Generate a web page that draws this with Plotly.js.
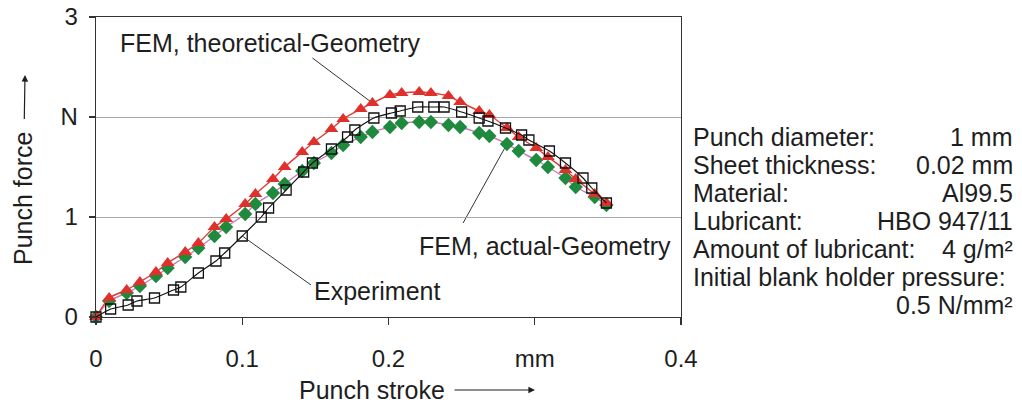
<!DOCTYPE html>
<html>
<head>
<meta charset="utf-8">
<script src="https://cdn.plot.ly/plotly-3.0.1.min.js"></script>
<style>
  html, body { margin: 0; padding: 0; background: #ffffff; }
  #chart { width: 1022px; height: 403px; }
</style>
</head>
<body>
<div id="chart"></div>
<script>
// Punch force over punch stroke: FEM (theoretical / actual geometry) vs. experiment
const strokeFem = [0, 0.009, 0.021, 0.030, 0.041, 0.049, 0.061, 0.070, 0.081, 0.089,
  0.102, 0.109, 0.121, 0.129, 0.141, 0.149, 0.161, 0.169, 0.181, 0.189,
  0.201, 0.209, 0.221, 0.229, 0.241, 0.249, 0.262, 0.269, 0.281, 0.289,
  0.301, 0.309, 0.321, 0.328, 0.341, 0.349];
const forceTheoretical = [0, 0.19, 0.27, 0.35, 0.45, 0.54, 0.65, 0.74, 0.90, 0.98,
  1.13, 1.23, 1.38, 1.50, 1.65, 1.75, 1.88, 1.98, 2.08, 2.14,
  2.22, 2.24, 2.25, 2.24, 2.21, 2.15, 2.06, 2.02, 1.89, 1.80,
  1.69, 1.60, 1.47, 1.38, 1.23, 1.14];
const forceActual = [0, 0.16, 0.24, 0.31, 0.41, 0.49, 0.60, 0.69, 0.81, 0.90,
  1.03, 1.13, 1.24, 1.33, 1.46, 1.54, 1.64, 1.72, 1.80, 1.85,
  1.90, 1.94, 1.95, 1.95, 1.92, 1.90, 1.84, 1.81, 1.73, 1.66,
  1.57, 1.50, 1.39, 1.30, 1.20, 1.12];
const strokeExp = [0, 0.010, 0.022, 0.028, 0.040, 0.053, 0.058, 0.070, 0.082, 0.088,
  0.100, 0.113, 0.118, 0.130, 0.142, 0.148, 0.161, 0.172, 0.177, 0.190,
  0.202, 0.208, 0.220, 0.231, 0.238, 0.250, 0.262, 0.268, 0.280, 0.291,
  0.296, 0.310, 0.321, 0.333, 0.339, 0.349];
const forceExp = [0, 0.08, 0.12, 0.16, 0.19, 0.27, 0.30, 0.44, 0.56, 0.64,
  0.81, 1.00, 1.09, 1.27, 1.45, 1.54, 1.68, 1.80, 1.87, 1.99,
  2.04, 2.06, 2.10, 2.10, 2.10, 2.05, 1.99, 1.96, 1.89, 1.82,
  1.77, 1.66, 1.54, 1.39, 1.29, 1.14];

const xTickVals = [0, 0.1, 0.2, 0.3, 0.4];
const xTickText = ['0', '0.1', '0.2', 'mm', '0.4'];
const yTickVals = [0, 1, 2, 3];
const yTickText = ['0', '1', 'N', '3'];

const seriesNames = ['FEM, theoretical-Geometry', 'FEM, actual-Geometry', 'Experiment'];
const xTitle = 'Punch stroke';
const yTitle = 'Punch force';

const paramLabels = ['Punch diameter:', 'Sheet thickness:', 'Material:', 'Lubricant:',
  'Amount of lubricant:', 'Initial blank holder pressure:', ''];
const paramValues = ['1 mm', '0.02 mm', 'Al99.5', 'HBO 947/11',
  '4 g/m²', '', '0.5 N/mm²'];

const FONT = 'Liberation Sans, Arial, Helvetica, sans-serif';
const TXT = '#1e1e1e';
const FS = 25;      // labels, titles, parameter block
const FS_TICK = 24; // tick labels

const traces = [
  {
    x: strokeFem, y: forceActual, name: seriesNames[1], type: 'scatter', mode: 'lines+markers',
    line: { color: '#c77cb8', width: 1.4, shape: 'spline', smoothing: 0.6 },
    marker: { symbol: 'diamond', size: 11, color: '#1f8a3d' },
    cliponaxis: false
  },
  {
    x: strokeFem, y: forceTheoretical, name: seriesNames[0], type: 'scatter', mode: 'lines+markers',
    line: { color: '#e23a35', width: 1.4, shape: 'spline', smoothing: 0.6 },
    marker: { symbol: 'triangle-up', size: 12, color: '#e0302b' },
    cliponaxis: false
  },
  {
    x: strokeExp, y: forceExp, name: seriesNames[2], type: 'scatter', mode: 'lines+markers',
    line: { color: '#111111', width: 1.1, shape: 'spline', smoothing: 0.6 },
    marker: { symbol: 'square-open', size: 10, color: '#111111', line: { width: 1.3, color: '#111111' } },
    cliponaxis: false
  }
];

// paper-coordinate helpers for text outside the plot area
const L = 96, R = 681, T = 17, B = 317;
const px = v => (v - L) / (R - L);
const py = v => (B - v) / (B - T);

const annotations = [];
const textFont = { family: FONT, size: FS, color: TXT };

// series labels
annotations.push({ x: 0.0147, y: 2.74, xref: 'x', yref: 'y', text: seriesNames[0], showarrow: false,
  xanchor: 'left', yanchor: 'middle', font: textFont });
annotations.push({ x: 0.2198, y: 0.71, xref: 'x', yref: 'y', text: seriesNames[1], showarrow: false,
  xanchor: 'left', yanchor: 'middle', font: textFont });
annotations.push({ x: 0.148, y: 0.26, xref: 'x', yref: 'y', text: seriesNames[2], showarrow: false,
  xanchor: 'left', yanchor: 'middle', font: textFont });

// axis titles, each followed by an arrow pointing in the growing direction
annotations.push({ x: px(535), y: py(390), xref: 'paper', yref: 'paper', text: xTitle,
  showarrow: true, ax: 372 - 535, ay: 0, startstandoff: 8,
  arrowhead: 2, arrowsize: 1.1, arrowwidth: 1.2, arrowcolor: TXT, font: textFont });
annotations.push({ x: px(25), y: py(75), xref: 'paper', yref: 'paper', text: yTitle,
  textangle: -90, showarrow: true, ax: -2, ay: 199 - 75, startstandoff: 12,
  arrowhead: 2, arrowsize: 1.1, arrowwidth: 1.2, arrowcolor: TXT, font: textFont });

// process parameters block
const rowY = [137, 165, 193, 221, 249, 277, 305];
paramLabels.forEach((t, i) => {
  if (t) annotations.push({ x: px(691), y: py(rowY[i]), xref: 'paper', yref: 'paper', text: t,
    showarrow: false, xanchor: 'left', yanchor: 'middle', font: textFont });
});
paramValues.forEach((t, i) => {
  if (t) annotations.push({ x: px(1015), y: py(rowY[i]), xref: 'paper', yref: 'paper', text: t,
    showarrow: false, xanchor: 'right', yanchor: 'middle', font: textFont });
});

// leader lines from labels to their curves
const leader = { type: 'line', xref: 'x', yref: 'y', line: { color: '#333333', width: 1 }, layer: 'below' };
const shapes = [
  Object.assign({}, leader, { x0: 0.148, y0: 2.59, x1: strokeFem[19], y1: forceTheoretical[19] }),
  Object.assign({}, leader, { x0: 0.251, y0: 0.94, x1: strokeFem[28], y1: forceActual[28] }),
  Object.assign({}, leader, { x0: 0.147, y0: 0.32, x1: strokeExp[10], y1: forceExp[10] })
];

const layout = {
  width: 1022, height: 403,
  margin: { l: L, r: 1022 - R, t: T, b: 403 - B, pad: 0 },
  paper_bgcolor: '#ffffff', plot_bgcolor: '#ffffff',
  showlegend: false,
  font: { family: FONT, size: FS, color: TXT },
  xaxis: {
    range: [0, 0.4], tickvals: xTickVals, ticktext: xTickText,
    ticks: 'outside', ticklen: 7, tickwidth: 1.2, tickcolor: '#333',
    showline: true, linecolor: '#333', linewidth: 1.3, mirror: true,
    showgrid: false, zeroline: false, automargin: false,
    ticklabelstandoff: 13,
    tickfont: { family: FONT, size: FS_TICK, color: TXT }
  },
  yaxis: {
    range: [0, 3], tickvals: yTickVals, ticktext: yTickText,
    ticks: 'outside', ticklen: 6, tickwidth: 1.2, tickcolor: '#333',
    showline: true, linecolor: '#333', linewidth: 1.3, mirror: true,
    showgrid: true, gridcolor: '#a8a8a8', gridwidth: 1, zeroline: false, automargin: false,
    ticklabelstandoff: 6,
    tickfont: { family: FONT, size: FS_TICK, color: TXT }
  },
  annotations: annotations,
  shapes: shapes
};

Plotly.newPlot('chart', traces, layout, { displayModeBar: false, staticPlot: true });
</script>
</body>
</html>
